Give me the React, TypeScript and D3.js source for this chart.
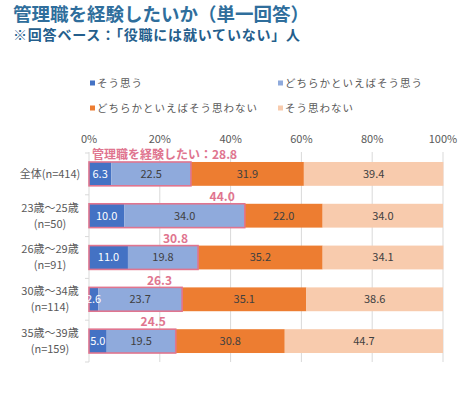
import React, { useEffect, useRef } from 'react'
import * as d3 from 'd3'

// DATA
const categories = ['全体(n=414)', '23歳～25歳\n(n=50)', '26歳～29歳\n(n=91)', '30歳～34歳\n(n=114)', '35歳～39歳\n(n=159)']
const seriesNames = ['そう思う', 'どちらかといえばそう思う', 'どちらかといえばそう思わない', 'そう思わない']
const agree = [6.3, 10.0, 11.0, 2.6, 5.0]
const ratherAgree = [22.5, 34.0, 19.8, 23.7, 19.5]
const ratherDisagree = [31.9, 22.0, 35.2, 35.1, 30.8]
const disagree = [39.4, 34.0, 34.1, 38.6, 44.7]
const wantTotal = [28.8, 44.0, 30.8, 26.3, 24.5]
const totalLabelPrefix = '管理職を経験したい：'
const ticks = [0, 20, 40, 60, 80, 100]

const colors = ['#4472C4', '#8FAADC', '#ED7D31', '#F8CBAD']
const labelColors = ['#FFFFFF', '#404040', '#404040', '#404040']
const pink = '#E0758F'
const font = '"Noto Sans CJK JP", "Noto Sans", sans-serif'

function App() {
  const ref = useRef<SVGSVGElement>(null)

  useEffect(() => {
    const w = 459
    const h = 395
    const svg = d3.select(ref.current)
    svg.selectAll('*').remove()
    svg.attr('width', w).attr('height', h).style('font-family', font)

    // TITLE
    svg.append('text')
      .text('管理職を経験したいか（単一回答）')
      .attr('x', 13).attr('y', 21)
      .attr('font-size', 18.5).attr('font-weight', 'bold')
      .attr('fill', '#2F6E9C')
    svg.append('text')
      .text('※回答ベース：「役職には就いていない」人')
      .attr('x', 13).attr('y', 40)
      .attr('font-size', 14).attr('font-weight', 'bold')
      .attr('letter-spacing', 0.8)
      .attr('fill', '#245E8C')

    // LEGEND
    const legendPos = [[90, 83], [278, 83], [90, 108], [278, 108]]
    const legend = svg.append('g')
      .selectAll('g')
      .data(seriesNames)
      .join('g')
      .attr('transform', (d, i) => `translate(${legendPos[i][0]},${legendPos[i][1]})`)
    legend.append('rect')
      .attr('x', 0).attr('y', -2.5)
      .attr('width', 5).attr('height', 5)
      .attr('fill', (d, i) => colors[i])
    legend.append('text')
      .text(d => d)
      .attr('x', 7).attr('dy', '0.35em')
      .attr('font-size', 10.5)
      .attr('letter-spacing', 1)
      .attr('fill', '#595959')

    // SCALES
    const x = d3.scaleLinear().domain([0, 100]).range([89, 443])
    const y = d3.scaleBand().domain(categories).range([153, 362]).paddingInner(0.43).paddingOuter(0.215)

    // GRID
    svg.append('g')
      .selectAll('line')
      .data(ticks)
      .join('line')
      .attr('x1', d => x(d)).attr('x2', d => x(d))
      .attr('y1', 152).attr('y2', 362)
      .attr('stroke', '#D9D9D9').attr('stroke-width', 1)
    svg.append('g')
      .selectAll('line')
      .data(d3.range(categories.length + 1))
      .join('line')
      .attr('x1', x(0) - 4).attr('x2', x(0))
      .attr('y1', (d, i) => 153 + i * (209 / categories.length))
      .attr('y2', (d, i) => 153 + i * (209 / categories.length))
      .attr('stroke', '#D9D9D9')

    svg.append('g')
      .selectAll('text')
      .data(ticks)
      .join('text')
      .text(d => `${d}%`)
      .attr('x', d => x(d)).attr('y', 139).attr('dy', '0.35em')
      .attr('text-anchor', 'middle')
      .attr('font-size', 11)
      .attr('fill', '#595959')

    // CATEGORY LABELS
    const cat = svg.append('g')
      .selectAll('text')
      .data(categories)
      .join('text')
      .attr('text-anchor', 'middle')
      .attr('font-size', 11)
      .attr('fill', '#595959')
    cat.each(function (d) {
      const lines = d.split('\n')
      const cy = y(d)! + y.bandwidth() / 2
      d3.select(this).selectAll('tspan')
        .data(lines)
        .join('tspan')
        .attr('x', 50)
        .attr('y', (l, i) => cy + (i - (lines.length - 1) / 2) * 16)
        .attr('dy', '0.35em')
        .text(l => l)
    })

    // STACKED BARS
    const rows = categories.map((c, i) => ({ cat: c, values: [agree[i], ratherAgree[i], ratherDisagree[i], disagree[i]] }))
    const stacked = d3.stack<any>()
      .keys([0, 1, 2, 3] as any)
      .value((d, k) => d.values[k])(rows)

    const layers = svg.append('g')
      .selectAll('g')
      .data(stacked)
      .join('g')
      .attr('fill', (d, i) => colors[i])
    layers.selectAll('rect')
      .data(d => d)
      .join('rect')
      .attr('x', d => x(d[0]))
      .attr('y', d => y(d.data.cat)!)
      .attr('width', d => x(d[1]) - x(d[0]))
      .attr('height', y.bandwidth())

    // PINK OUTLINE (first two segments)
    svg.append('g')
      .selectAll('rect')
      .data(categories)
      .join('rect')
      .attr('x', x(0))
      .attr('y', d => y(d)!)
      .attr('width', (d, i) => x(wantTotal[i]) - x(0))
      .attr('height', y.bandwidth())
      .attr('fill', 'none')
      .attr('stroke', pink)
      .attr('stroke-width', 1.6)

    // VALUE LABELS
    stacked.forEach((layer, li) => {
      svg.append('g')
        .selectAll('text')
        .data(layer)
        .join('text')
        .text(d => (d[1] - d[0]).toFixed(1))
        .attr('x', d => (x(d[0]) + x(d[1])) / 2)
        .attr('y', d => y(d.data.cat)! + y.bandwidth() / 2)
        .attr('dy', '0.35em')
        .attr('text-anchor', 'middle')
        .attr('font-size', 11)
        .attr('fill', labelColors[li])
    })

    // TOTAL LABELS
    svg.append('g')
      .selectAll('text')
      .data(categories)
      .join('text')
      .text((d, i) => i === 0 ? `${totalLabelPrefix}${wantTotal[i].toFixed(1)}` : wantTotal[i].toFixed(1))
      .attr('x', (d, i) => i === 0 ? x(0) + 3 : x(wantTotal[i]) - 10)
      .attr('y', d => y(d)! - 7)
      .attr('dy', '0.35em')
      .attr('text-anchor', (d, i) => i === 0 ? 'start' : 'end')
      .attr('font-size', 12)
      .attr('font-weight', 'bold')
      .attr('fill', pink)
  }, [])

  return (
    <div style={{ position: 'absolute', left: 0, top: 0, width: 459, height: 395, overflow: 'hidden' }}>
      <svg ref={ref} style={{ display: 'block' }}></svg>
    </div>
  )
}

export default App
